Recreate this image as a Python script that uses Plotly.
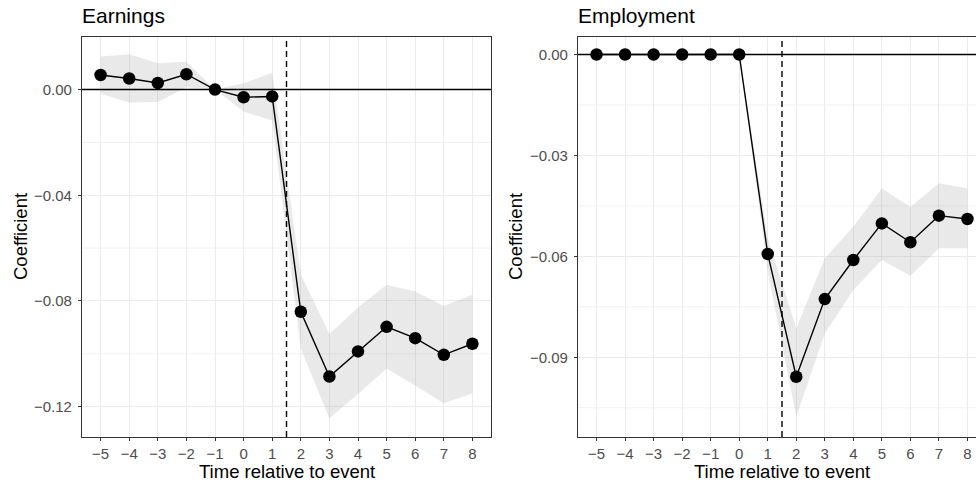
import plotly.graph_objects as go

# Event time (periods relative to the event)
periods = [-5, -4, -3, -2, -1, 0, 1, 2, 3, 4, 5, 6, 7, 8]

# Earnings: point estimates and confidence bounds
earn_coef = [0.0055, 0.0042, 0.0025, 0.0058, 0.0, -0.0029, -0.0026,
             -0.0841, -0.1086, -0.0991, -0.0898, -0.0941, -0.1004, -0.0962]
earn_lo = [-0.0016, -0.0049, -0.0047, 0.0009, 0.0, -0.0083, -0.0117,
           -0.0980, -0.1244, -0.1152, -0.1056, -0.1120, -0.1187, -0.1149]
earn_hi = [0.0125, 0.0134, 0.0100, 0.0105, 0.0, 0.0024, 0.0064,
           -0.0700, -0.0925, -0.0825, -0.0739, -0.0764, -0.0819, -0.0777]

# Employment: point estimates and confidence bounds
emp_coef = [0.0, 0.0, 0.0, 0.0, 0.0, 0.0, -0.0593,
            -0.0958, -0.0727, -0.0611, -0.0502, -0.0558, -0.0479, -0.0489]
emp_lo = [0.0, 0.0, 0.0, 0.0, 0.0, 0.0, -0.0645,
          -0.1076, -0.0829, -0.0700, -0.0611, -0.0658, -0.0576, -0.0576]
emp_hi = [0.0, 0.0, 0.0, 0.0, 0.0, 0.0, -0.0545,
          -0.0814, -0.0606, -0.0512, -0.0398, -0.0453, -0.0383, -0.0398]

earn_yticks = [0.0, -0.04, -0.08, -0.12]
earn_yminor = [0.02, -0.02, -0.06, -0.10]
emp_yticks = [0.0, -0.03, -0.06, -0.09]
emp_yminor = [-0.015, -0.045, -0.075, -0.105]

panels = [
    dict(title="Earnings", coef=earn_coef, lo=earn_lo, hi=earn_hi,
         yticks=earn_yticks, yminor=earn_yminor, fmt=".2f"),
    dict(title="Employment", coef=emp_coef, lo=emp_lo, hi=emp_hi,
         yticks=emp_yticks, yminor=emp_yminor, fmt=".2f"),
]

event_line = 1.5
FONT = "Liberation Sans, Arial, sans-serif"
W, H = 976, 486
M_T, M_B = 37, 49
x_domains = [[82 / W, 491 / W], [578 / W, 1.0]]
x_ranges = [[-5.65, 8.65], [-5.65, 8.30]]
y_ranges = [[-0.1315, 0.0199], [-0.1137, 0.0052]]
tick_font = dict(family=FONT, size=15, color="#4D4D4D")

fig = go.Figure()
layout = dict(
    width=W, height=H,
    margin=dict(l=0, r=0, t=M_T, b=M_B, pad=0),
    paper_bgcolor="white", plot_bgcolor="white",
    showlegend=False,
    font=dict(family=FONT, color="black"),
    shapes=[], annotations=[],
)

plot_h = H - M_T - M_B

for i, p in enumerate(panels):
    n = "" if i == 0 else str(i + 1)
    xa, ya = "x" + n, "y" + n

    # confidence band
    fig.add_trace(go.Scatter(
        x=periods + periods[::-1], y=p["hi"] + p["lo"][::-1],
        fill="toself", fillcolor="rgba(153,153,153,0.22)",
        line=dict(width=0), mode="lines", hoverinfo="skip",
        xaxis=xa, yaxis=ya))
    # estimates
    fig.add_trace(go.Scatter(
        x=periods, y=p["coef"], mode="lines+markers",
        line=dict(color="black", width=1.4),
        marker=dict(color="black", size=12.5),
        xaxis=xa, yaxis=ya))

    # minor horizontal gridlines
    for v in p["yminor"]:
        layout["shapes"].append(dict(
            type="line", xref=xa + " domain", yref=ya, x0=0, x1=1, y0=v, y1=v,
            line=dict(color="#EBEBEB", width=0.7), layer="below"))
    # zero reference line
    layout["shapes"].append(dict(
        type="line", xref=xa + " domain", yref=ya, x0=0, x1=1, y0=0, y1=0,
        line=dict(color="black", width=1.5), layer="above"))
    # event marker
    layout["shapes"].append(dict(
        type="line", xref=xa, yref=ya + " domain", x0=event_line, x1=event_line,
        y0=0, y1=1, line=dict(color="black", width=1.4, dash="6px,4px"),
        layer="above"))

    layout["xaxis" + n] = dict(
        domain=x_domains[i], range=x_ranges[i], anchor=ya,
        tickmode="array", tickvals=periods,
        ticktext=[str(t).replace("-", "\u2212") for t in periods],
        showgrid=True, gridcolor="#EBEBEB", gridwidth=1.1,
        zeroline=False, showline=True, linecolor="#333333", linewidth=1.1,
        mirror=True,
        ticks="outside", ticklen=3, tickcolor="#333333", tickwidth=1.1,
        tickfont=tick_font,
    )
    layout["yaxis" + n] = dict(
        domain=[0, 1], range=y_ranges[i], anchor=xa,
        tickmode="array", tickvals=p["yticks"],
        ticktext=[format(v, p["fmt"]).replace("-", "\u2212") for v in p["yticks"]],
        showgrid=True, gridcolor="#EBEBEB", gridwidth=1.1,
        zeroline=False, showline=True, linecolor="#333333", linewidth=1.1,
        mirror=(i == 0),
        ticks="outside", ticklen=3, tickcolor="#333333", tickwidth=1.1,
        tickfont=tick_font, ticklabelstandoff=3,
    )

    x0 = x_domains[i][0]
    # panel title
    layout["annotations"].append(dict(
        text=p["title"], xref="paper", yref="paper", x=x0 - 2 / W, xanchor="left",
        y=1 + (M_T - 15) / plot_h, yanchor="middle", showarrow=False,
        font=dict(family=FONT, size=21, color="black")))
    # x-axis title
    x_center = (82 + 491) / 2 / W if i == 0 else (578 + 986) / 2 / W
    layout["annotations"].append(dict(
        text="Time relative to event", xref="paper", yref="paper",
        x=x_center, xanchor="center", y=-(472 - (H - M_B)) / plot_h,
        yanchor="middle", showarrow=False,
        font=dict(family=FONT, size=18.5, color="black")))
    # y-axis title
    layout["annotations"].append(dict(
        text="Coefficient", xref="paper", yref="paper",
        x=(20 if i == 0 else 515) / W, xanchor="center",
        y=0.5, yanchor="middle", textangle=-90, showarrow=False,
        font=dict(family=FONT, size=18.5, color="black")))

fig.update_layout(**layout)
fig.write_html("out.html")
